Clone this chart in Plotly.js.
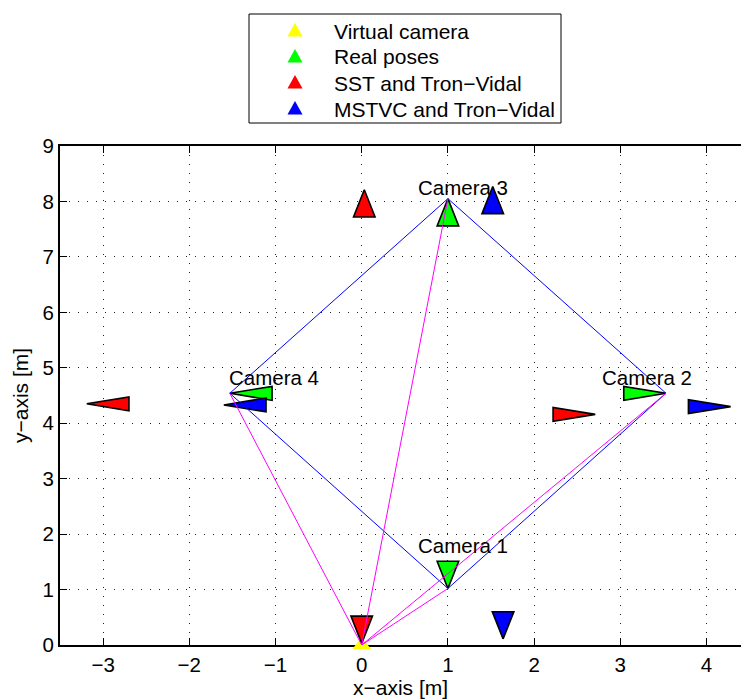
<!DOCTYPE html>
<html>
<head>
<meta charset="utf-8">
<script src="https://cdn.plot.ly/plotly-3.0.1.min.js"></script>
<style>
  html, body { margin: 0; padding: 0; overflow: hidden; background: #fff; }
  #chart { width: 741px; height: 700px; }
</style>
</head>
<body>
<div id="chart"></div>
<script>
// Camera names and where their labels sit [m]
const cameraNames = ['Camera 1', 'Camera 2', 'Camera 3', 'Camera 4'];
const labelX = [0.63, 2.77, 0.63, -1.56];
const labelY = [1.80, 4.82, 8.25, 4.82];

// Virtual camera position [m]
const virtualX = [0];
const virtualY = [0];

// Real camera poses: centre [m] and viewing direction [deg]
const realX = [1.00, 3.53, 1.00, -1.53];
const realY = [1.02, 4.54, 8.05, 4.54];
const realHeading = [90, 180, 270, 0];

// Estimated poses, SST and Tron-Vidal
const sstX = [0.00, 2.71, 0.03, -3.19];
const sstY = [0.03, 4.16, 8.21, 4.35];
const sstHeading = [90, 180, 270, 0];

// Estimated poses, MSTVC and Tron-Vidal
const mstvcX = [1.64, 4.28, 1.52, -1.60];
const mstvcY = [0.11, 4.30, 8.27, 4.33];
const mstvcHeading = [90, 180, 270, 0];

// Legend entries
const legendNames = ['Virtual camera', 'Real poses', 'SST and Tron\u2212Vidal', 'MSTVC and Tron\u2212Vidal'];
const legendColors = ['#ffff00', '#00ff00', '#ff0000', '#0000ff'];

// Axis ticks
const xTicks = [-3, -2, -1, 0, 1, 2, 3, 4];
const yTicks = [0, 1, 2, 3, 4, 5, 6, 7, 8, 9];

// Figure geometry (pixels)
const W = 741, H = 700;
const M = { l: 60, r: 0, t: 146, b: 55 };
const plotW = W - M.l - M.r, plotH = H - M.t - M.b;
const toPaperX = px => (px - M.l) / plotW;
const toPaperY = py => (H - M.b - py) / plotH;

// Frustum drawing size (depth and half base width, metres)
const FRUSTUM_DEPTH = 0.49;
const FRUSTUM_HALF = 0.125;

// Build closed triangles (apex at camera centre, base along view direction)
function frustums(xs, ys, hs) {
  const px = [], py = [];
  xs.forEach((x, i) => {
    const y = ys[i];
    const a = hs[i] * Math.PI / 180;
    const dx = Math.cos(a), dy = Math.sin(a);
    const bx = x + FRUSTUM_DEPTH * dx, by = y + FRUSTUM_DEPTH * dy;
    const nx = -dy, ny = dx;
    px.push(x, bx + FRUSTUM_HALF * nx, bx - FRUSTUM_HALF * nx, x, null);
    py.push(y, by + FRUSTUM_HALF * ny, by - FRUSTUM_HALF * ny, y, null);
  });
  return { x: px, y: py };
}

function frustumTrace(xs, ys, hs, color) {
  const f = frustums(xs, ys, hs);
  return {
    type: 'scatter', mode: 'lines', x: f.x, y: f.y,
    fill: 'toself', fillcolor: color,
    line: { color: '#000', width: 1.6 },
    showlegend: false, hoverinfo: 'skip', cliponaxis: false
  };
}

// Blue ring joining consecutive real cameras
const ringX = realX.concat([realX[0]]);
const ringY = realY.concat([realY[0]]);

// Magenta rays from the virtual camera to every real camera
const rayX = [], rayY = [];
realX.forEach((x, i) => {
  rayX.push(virtualX[0], x, null);
  rayY.push(virtualY[0], realY[i], null);
});

const traces = [
  {
    type: 'scatter', mode: 'markers', x: virtualX, y: virtualY,
    name: legendNames[0], showlegend: false,
    marker: { symbol: 'triangle-up', size: 16, color: legendColors[0], line: { width: 0 } },
    cliponaxis: false, hoverinfo: 'skip'
  },
  frustumTrace(realX, realY, realHeading, legendColors[1]),
  frustumTrace(sstX, sstY, sstHeading, legendColors[2]),
  frustumTrace(mstvcX, mstvcY, mstvcHeading, legendColors[3]),
  {
    type: 'scatter', mode: 'lines', x: ringX, y: ringY,
    line: { color: '#0000ff', width: 1 }, showlegend: false, hoverinfo: 'skip'
  },
  {
    type: 'scatter', mode: 'lines', x: rayX, y: rayY,
    line: { color: '#ff00ff', width: 1 }, showlegend: false, hoverinfo: 'skip',
    cliponaxis: false
  }
];

// Camera labels
const annotations = cameraNames.map((t, i) => ({
  x: labelX[i], y: labelY[i], xref: 'x', yref: 'y',
  text: t, showarrow: false, xanchor: 'left', yanchor: 'middle',
  font: { size: 20.5, color: '#000' }
}));

// Legend box drawn above the axes
const legendBox = { left: 249, top: 14, right: 561, bottom: 123 };
const rowTop = 30, rowStep = 26;
const shapes = [{
  type: 'rect', xref: 'paper', yref: 'paper', layer: 'above',
  x0: toPaperX(legendBox.left), x1: toPaperX(legendBox.right),
  y0: toPaperY(legendBox.top), y1: toPaperY(legendBox.bottom),
  line: { color: '#000', width: 1 }, fillcolor: '#fff'
}];
legendNames.forEach((name, i) => {
  const cy = rowTop + i * rowStep;
  const cx = 295;
  const p = [
    [cx - 7.5, cy + 6.5], [cx + 7.5, cy + 6.5], [cx, cy - 7]
  ].map(([x, y]) => toPaperX(x) + ',' + toPaperY(y));
  shapes.push({
    type: 'path', xref: 'paper', yref: 'paper', layer: 'above',
    path: 'M' + p[0] + ' L' + p[1] + ' L' + p[2] + ' Z',
    fillcolor: legendColors[i], line: { width: 0 }
  });
  annotations.push({
    x: toPaperX(332), y: toPaperY(cy + 1), xref: 'paper', yref: 'paper',
    text: name, showarrow: false, xanchor: 'left', yanchor: 'middle',
    font: { size: 21, color: '#000' }
  });
});

const axisCommon = {
  ticks: 'inside', ticklen: 7, tickwidth: 1, tickcolor: '#000',
  showline: true, linewidth: 2, linecolor: '#000',
  showgrid: true, gridcolor: '#222', gridwidth: 1, griddash: '1px,8px',
  zeroline: false, layer: 'below traces', fixedrange: true,
  automargin: false, tickangle: 0,
  tickfont: { size: 20.5, color: '#000' }
};

const layout = {
  width: W, height: H,
  margin: { l: M.l, r: M.r, t: M.t, b: M.b, pad: 0, autoexpand: false },
  paper_bgcolor: '#fff', plot_bgcolor: '#fff',
  font: { family: '"Liberation Sans", Arial, Helvetica, sans-serif', size: 20, color: '#000' },
  showlegend: false,
  xaxis: Object.assign({}, axisCommon, {
    range: [-3.5, 4.40], tickvals: xTicks, mirror: 'ticks',
    title: { text: 'x\u2212axis [m]', standoff: 3, font: { size: 21 } }
  }),
  yaxis: Object.assign({}, axisCommon, {
    range: [0, 9], tickvals: yTicks, mirror: false,
    title: { text: 'y\u2212axis [m]', standoff: 8, font: { size: 21 } }
  }),
  shapes: shapes,
  annotations: annotations
};

Plotly.newPlot('chart', traces, layout, { displayModeBar: false, staticPlot: true });
</script>
</body>
</html>
